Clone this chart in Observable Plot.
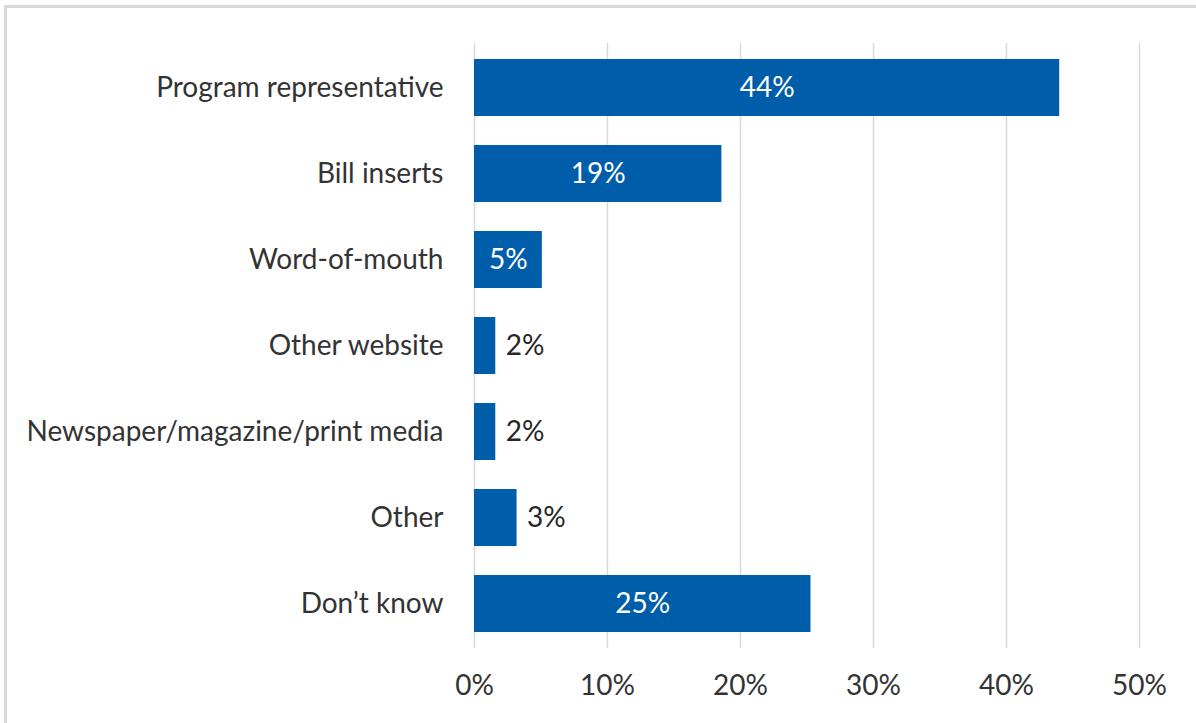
<!DOCTYPE html>
<html>
<head>
<meta charset="utf-8">
<script src="https://cdn.jsdelivr.net/npm/d3@7"></script>
<script src="https://cdn.jsdelivr.net/npm/@observablehq/plot@0.6"></script>
<style>
  html, body { margin: 0; padding: 0; background: #fff; }
  #wrap { position: relative; width: 1196px; height: 723px; overflow: hidden; }
  #frame { position: absolute; left: 4px; top: 5px; width: 1300px; height: 800px;
           border-left: 3px solid #d9d9d9; border-top: 3px solid #d9d9d9; pointer-events: none; }
  #chart { position: absolute; left: 0; top: 0; }
</style>
</head>
<body>
<div id="wrap"><div id="chart"></div><div id="frame"></div></div>
<script>
const categories = [
  "Program representative",
  "Bill inserts",
  "Word-of-mouth",
  "Other website",
  "Newspaper/magazine/print media",
  "Other",
  "Don’t know"
];
const values = [44.0, 18.6, 5.1, 1.6, 1.6, 3.2, 25.3];
const xTicks = [0, 10, 20, 30, 40, 50];

const data = categories.map((c, i) => ({category: c, value: values[i], label: Math.round(values[i]) + "%"}));
const inside = data.filter(d => d.value >= 5);
const outside = data.filter(d => d.value < 5);

const FS = 28;
const chart = Plot.plot({
  width: 1196,
  height: 723,
  marginLeft: 474,
  marginRight: 57,
  marginTop: 43,
  marginBottom: 75,
  style: {fontFamily: "Lato, 'Open Sans', sans-serif", fontSize: FS + "px", color: "#333", background: "transparent"},
  x: {domain: [0, 50]},
  y: {domain: categories, paddingInner: 0.34, paddingOuter: 0.17},
  marks: [
    Plot.gridX(xTicks, {stroke: "#d9d9d9", strokeOpacity: 1, strokeWidth: 1.5}),
    Plot.barX(data, {x: "value", y: "category", fill: "#005DAA"}),
    Plot.text(inside, {x: d => d.value / 2, y: "category", text: "label", fill: "white", fontSize: FS}),
    Plot.text(outside, {x: "value", y: "category", text: "label", dx: 10, textAnchor: "start", fill: "#262626", fontSize: FS}),
    Plot.axisX({ticks: xTicks, tickFormat: d => d + "%", tickSize: 0, tickPadding: 27, label: null, fill: "#333"}),
    Plot.axisY({tickSize: 0, tickPadding: 31, label: null, fill: "#333"})
  ]
});
document.getElementById("chart").appendChild(chart);
</script>
</body>
</html>
